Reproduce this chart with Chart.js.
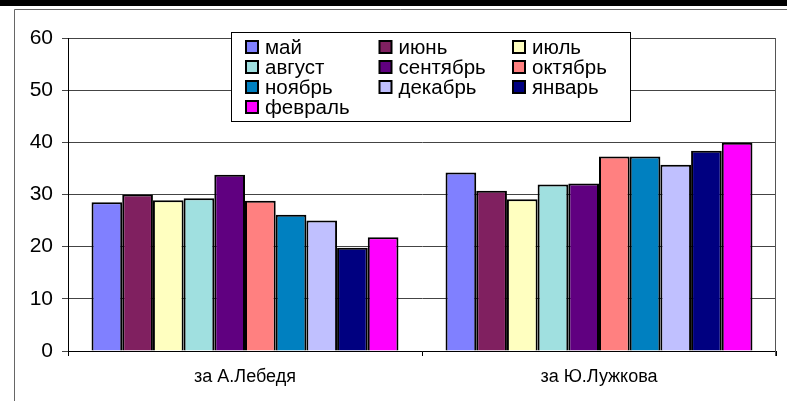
<!DOCTYPE html>
<html>
<head>
<meta charset="utf-8">
<script src="https://cdn.jsdelivr.net/npm/chart.js@4"></script>
<style>
  html, body { margin: 0; padding: 0; background: #fff; }
  #wrap { width: 787px; height: 401px; }
</style>
</head>
<body>
<div id="wrap"><canvas id="myChart" width="787" height="401"></canvas></div>
<script>
// --- ДАННЫЕ ---
const categories = ['за А.Лебедя', 'за Ю.Лужкова'];
const months = ['май', 'июнь', 'июль', 'август', 'сентябрь', 'октябрь', 'ноябрь', 'декабрь', 'январь', 'февраль'];
const lebedev = [28.5, 30.0, 28.9, 29.3, 33.8, 28.8, 26.1, 25.0, 19.8, 21.8];
const luzhkov = [34.2, 30.7, 29.1, 31.9, 32.1, 37.3, 37.3, 35.7, 38.4, 39.9];
const yTicks = [0, 10, 20, 30, 40, 50, 60];

const colors = ['#8080FF', '#802060', '#FFFFC0', '#A0E0E0', '#600080', '#FF8080', '#0080C0', '#C0C0FF', '#000080', '#FF00FF'];
const FONT = '"Liberation Sans", Arial, sans-serif';

// фон и рамка вокруг диаграммы
const frame = {
  id: 'frame',
  beforeDraw(chart) {
    const ctx = chart.ctx;
    ctx.save();
    ctx.fillStyle = '#fff';
    ctx.fillRect(0, 0, chart.width, chart.height);
    ctx.fillStyle = '#000';
    ctx.fillRect(0, 0, chart.width, 6);
    ctx.strokeStyle = '#666';
    ctx.lineWidth = 1;
    ctx.beginPath();
    ctx.moveTo(chart.width, 9.5);
    ctx.lineTo(14.5, 9.5);
    ctx.lineTo(14.5, chart.height);
    ctx.stroke();
    ctx.restore();
  },
  afterDatasetsDraw(chart) {
    const a = chart.chartArea;
    const ctx = chart.ctx;
    ctx.save();
    ctx.strokeStyle = '#555';
    ctx.lineWidth = 1;
    ctx.beginPath();
    ctx.moveTo(Math.round(a.right) - 0.5, a.top);
    ctx.lineTo(Math.round(a.right) - 0.5, a.bottom + 5);
    ctx.stroke();
    ctx.restore();
  }
};

// легенда в рамке, три колонки
const boxLegend = {
  id: 'boxLegend',
  afterDatasetsDraw(chart) {
    const ctx = chart.ctx;
    ctx.save();
    ctx.fillStyle = '#fff';
    ctx.fillRect(231, 32, 400, 90);
    ctx.strokeStyle = '#000';
    ctx.lineWidth = 1;
    ctx.strokeRect(231.5, 32.5, 399, 89);
    ctx.font = '20.5px ' + FONT;
    ctx.textBaseline = 'middle';
    chart.data.datasets.forEach((ds, i) => {
      const col = i % 3;
      const row = Math.floor(i / 3);
      const x = 245 + col * 133.5;
      const y = 47 + row * 20;
      ctx.fillStyle = '#000';
      ctx.fillRect(x, y - 7, 14, 14);
      ctx.fillStyle = ds.backgroundColor;
      ctx.fillRect(x + 2, y - 5, 10, 10);
      ctx.fillStyle = '#000';
      ctx.fillText(ds.label, x + 20, y + 1);
    });
    ctx.restore();
  }
};

const ctxChart = document.getElementById('myChart');

new Chart(ctxChart, {
  type: 'bar',
  data: {
    labels: categories,
    datasets: months.map((m, i) => ({
      label: m,
      data: [lebedev[i], luzhkov[i]],
      backgroundColor: colors[i],
      borderColor: '#000',
      borderWidth: 2,
      barPercentage: 1,
      categoryPercentage: 0.867
    }))
  },
  options: {
    responsive: false,
    animation: false,
    devicePixelRatio: 1,
    layout: { padding: { left: 0, top: 38, right: 11, bottom: 0 } },
    plugins: {
      legend: { display: false },
      tooltip: { enabled: false }
    },
    scales: {
      x: {
        grid: { drawOnChartArea: false, drawTicks: true, tickLength: 5, color: '#000', offset: true },
        border: { color: '#000', width: 1 },
        ticks: { color: '#000', font: { family: FONT, size: 18 }, padding: 10 },
        afterFit(scale) { scale.height = 50; }
      },
      y: {
        min: 0,
        max: 60,
        afterBuildTicks(scale) { scale.ticks = yTicks.map(v => ({ value: v })); },
        grid: { color: '#444', tickLength: 6 },
        border: { color: '#000', width: 1 },
        ticks: { color: '#000', font: { family: FONT, size: 21 }, padding: 9 },
        afterFit(scale) { scale.width = 68; }
      }
    }
  },
  plugins: [frame, boxLegend]
});
</script>
</body>
</html>
